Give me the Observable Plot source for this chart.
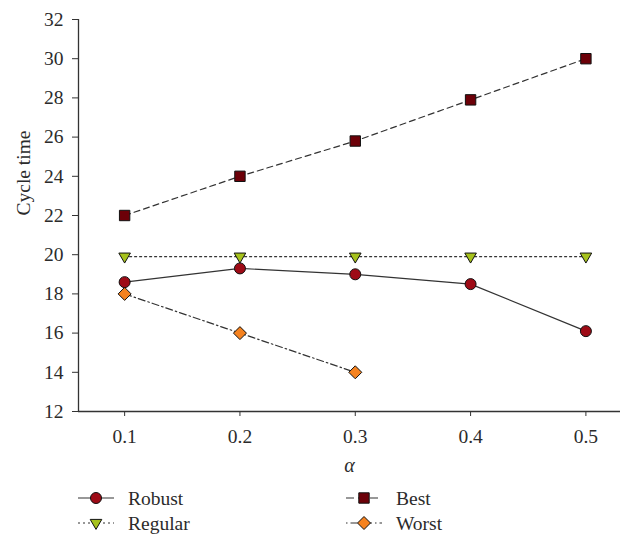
<!DOCTYPE html>
<html>
<head>
<meta charset="utf-8">
<script src="https://cdn.jsdelivr.net/npm/d3@7"></script>
<script src="https://cdn.jsdelivr.net/npm/@observablehq/plot@0.6"></script>
<style>
  html, body { margin: 0; padding: 0; background: #fff; }
  #wrap { position: relative; width: 626px; height: 536px; font-family: "Liberation Serif", serif; color: #2b2b2b; }
  #legend { position: absolute; left: 0; top: 475px; }
</style>
</head>
<body>
<div id="wrap"><div id="chart"></div><div id="legend"></div></div>
<script>
const alphas = [0.1, 0.2, 0.3, 0.4, 0.5];
const robust = [18.6, 19.3, 19.0, 18.5, 16.1];
const best = [22, 24, 25.8, 27.9, 30];
const regular = [19.9, 19.9, 19.9, 19.9, 19.9];
const worst = [18, 16, 14];
const yTicks = [12, 14, 16, 18, 20, 22, 24, 26, 28, 30, 32];
const seriesNames = ["Robust", "Best", "Regular", "Worst"];

const FS = 19.5;
const mk = (draw) => ({ draw: (ctx) => draw(ctx) });
const symCircle = mk(c => { c.moveTo(5.5, 0); c.arc(0, 0, 5.5, 0, 2 * Math.PI); });
const symSquare = mk(c => { c.rect(-5.2, -5.2, 10.4, 10.4); });
const symTri = mk(c => { c.moveTo(-5.8, -3.6); c.lineTo(5.8, -3.6); c.lineTo(0, 6.4); c.closePath(); });
const symDiamond = mk(c => { c.moveTo(0, -6.5); c.lineTo(6.5, 0); c.lineTo(0, 6.5); c.lineTo(-6.5, 0); c.closePath(); });

const styles = {
  Robust:  { fill: "#9e0b16", dash: null,          legendDash: null,            sym: symCircle },
  Best:    { fill: "#6c0008", dash: "6,4",         legendDash: "8,4",           sym: symSquare },
  Regular: { fill: "#a6c21c", dash: "2,3",         legendDash: "2,3",           sym: symTri },
  Worst:   { fill: "#f5821f", dash: "7,3,1.5,3",   legendDash: "1.5,3,7,3",     sym: symDiamond }
};

const tbl = (name, vals) => vals.map((v, i) => ({ series: name, alpha: alphas[i], value: v }));
const data = {
  Robust: tbl("Robust", robust),
  Best: tbl("Best", best),
  Regular: tbl("Regular", regular),
  Worst: tbl("Worst", worst)
};

const drawOrder = ["Best", "Regular", "Worst", "Robust"];
const marks = [
  Plot.ruleX([0.06], { stroke: "#333", strokeWidth: 1.3 }),
  Plot.ruleY([12], { stroke: "#333", strokeWidth: 1.3 }),
  Plot.axisX({ ticks: alphas, tickFormat: d3.format(".1f"), tickSize: 5, tickPadding: 13, label: null, stroke: "#333", fill: "#2b2b2b", fontSize: FS }),
  Plot.axisY({ ticks: yTicks, tickSize: 6, tickPadding: 9, label: null, stroke: "#333", fill: "#2b2b2b", fontSize: FS }),
  Plot.text(["Cycle time"], { text: d => d, frameAnchor: "left", rotate: -90, dx: -55, fontSize: FS, fill: "#2b2b2b" }),
  Plot.text(["α"], { text: d => d, frameAnchor: "bottom", dy: 54, lineAnchor: "middle", fontSize: 20, fontStyle: "italic", fill: "#2b2b2b" })
];
for (const s of drawOrder) {
  marks.push(Plot.line(data[s], { x: "alpha", y: "value", stroke: "#333", strokeWidth: 1.2, strokeDasharray: styles[s].dash }));
}
for (const s of drawOrder) {
  marks.push(Plot.dot(data[s], { x: "alpha", y: "value", symbol: styles[s].sym, fill: styles[s].fill, stroke: "#111", strokeWidth: 1, r: 6 }));
}

const chart = Plot.plot({
  width: 626,
  height: 475,
  marginTop: 19,
  marginLeft: 78,
  marginRight: 6,
  marginBottom: 64,
  style: { fontFamily: "Liberation Serif, serif", fontSize: FS + "px", color: "#2b2b2b", background: "#fff" },
  x: { domain: [0.06, 0.53], axis: null },
  y: { domain: [12, 32], axis: null },
  marks
});
document.getElementById("chart").appendChild(chart);

// Legend (below the plot)
const legendLayout = [
  { name: "Robust", x: 78, y: 23 },
  { name: "Best", x: 346, y: 23 },
  { name: "Regular", x: 78, y: 48 },
  { name: "Worst", x: 346, y: 48 }
];
const lsvg = d3.select("#legend").append("svg").attr("width", 626).attr("height", 61)
  .style("font-family", "Liberation Serif, serif").style("font-size", FS + "px");
for (const item of legendLayout) {
  const st = styles[item.name];
  const g = lsvg.append("g").attr("transform", `translate(${item.x},${item.y})`);
  g.append("line").attr("x1", 0).attr("x2", 36).attr("y1", 0).attr("y2", 0)
    .attr("stroke", "#333").attr("stroke-width", 1.2)
    .attr("stroke-dasharray", st.legendDash);
  const p = d3.path();
  st.sym.draw(p);
  g.append("path").attr("d", p.toString()).attr("transform", "translate(18,0)")
    .attr("fill", st.fill).attr("stroke", "#111").attr("stroke-width", 1);
  g.append("text").attr("x", 50).attr("y", 0).attr("dy", "0.35em").attr("fill", "#2b2b2b").text(item.name);
}
</script>
</body>
</html>
